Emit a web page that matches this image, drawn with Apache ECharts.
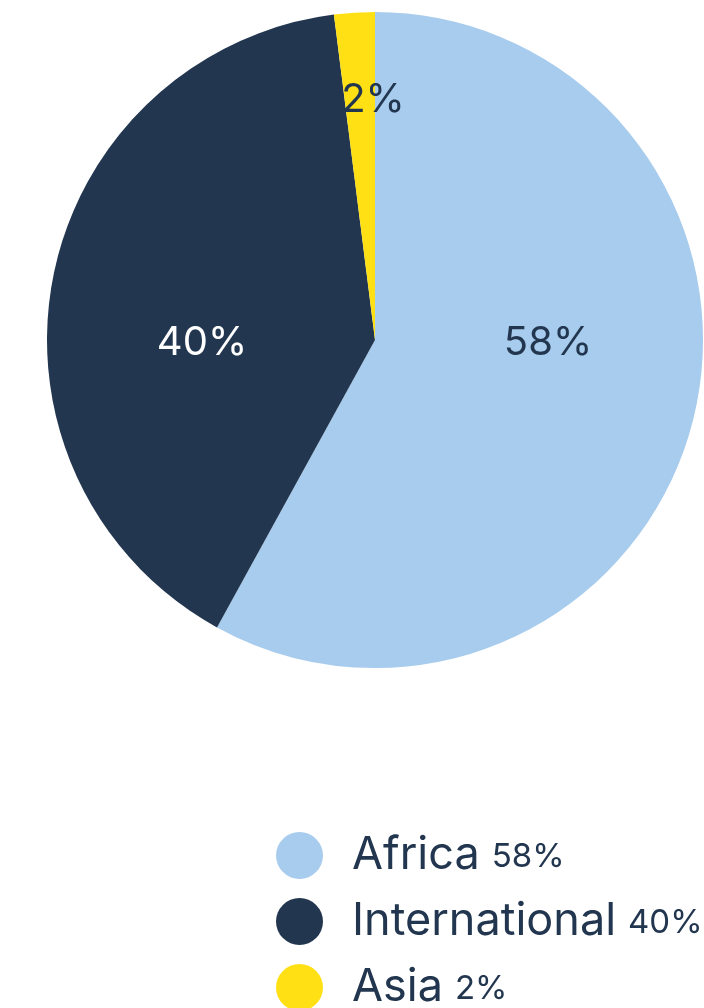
<!DOCTYPE html>
<html>
<head>
<meta charset="utf-8">
<script src="https://cdn.jsdelivr.net/npm/echarts@6/dist/echarts.min.js"></script>
<style>
html,body{margin:0;padding:0;background:#fff;}
#chart{width:704px;height:1008px;}
</style>
</head>
<body>
<div id="chart"></div>
<script>
const categories = ['Africa', 'International', 'Asia'];
const values = [58, 40, 2];
const colors = ['#a8cced', '#22364f', '#ffe014'];
const labelColors = ['#22364f', '#ffffff', '#22364f'];

const chart = echarts.init(document.getElementById('chart'), null, {renderer: 'canvas'});
const FONT = 'Inter, "Noto Sans", sans-serif';
// label offsets relative to pie centre (px)
const labelOffsets = [[173, 3], [-173, 3], [-2, -240]];
const cx = 375, cy = 340;

const option = {
  animation: false,
  backgroundColor: '#ffffff',
  legend: {
    orient: 'vertical',
    left: 276,
    top: 832,
    height: 300,
    padding: 0,
    icon: 'circle',
    itemWidth: 47,
    itemHeight: 47,
    itemGap: 19,
    selectedMode: false,
    data: categories,
    formatter: function (name) {
      const i = categories.indexOf(name);
      return '{n|' + name + '}{v|' + values[i] + '%}';
    },
    textStyle: {
      rich: {
        n: {fontFamily: FONT, fontSize: 45, color: '#22364f', fontWeight: 'normal', padding: [0, 0, 0, 24]},
        v: {fontFamily: FONT, fontSize: 33, color: '#22364f', fontWeight: 'normal', padding: [4, 0, 0, 12]}
      }
    }
  },
  series: [{
    type: 'pie',
    center: [cx, cy],
    radius: [0, 328],
    startAngle: 90,
    clockwise: true,
    avoidLabelOverlap: false,
    data: categories.map((c, i) => ({
      name: c,
      value: values[i],
      itemStyle: {color: colors[i]},
      label: {color: labelColors[i]}
    })),
    label: {
      show: true,
      position: 'inside',
      formatter: '{c}%',
      fontFamily: FONT,
      fontSize: 40,
      fontWeight: 'normal'
    },
    labelLine: {show: false},
    labelLayout: function (params) {
      const o = labelOffsets[params.dataIndex];
      return {x: cx + o[0], y: cy + o[1], align: 'center', verticalAlign: 'middle'};
    },
    emphasis: {disabled: true}
  }]
};
chart.setOption(option);
</script>
</body>
</html>
